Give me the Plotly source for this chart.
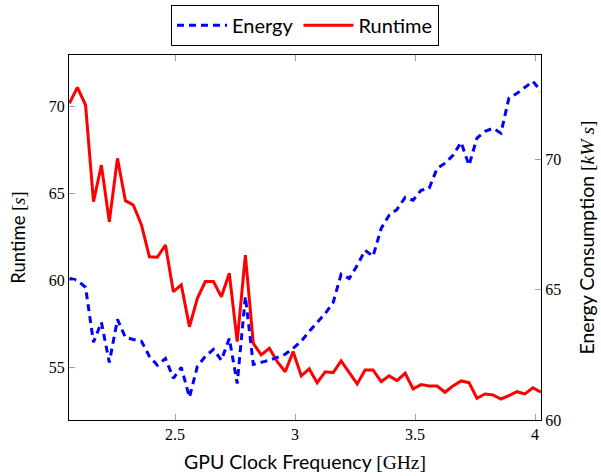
import plotly.graph_objects as go

freq_ghz = [2.060, 2.093, 2.127, 2.160, 2.193, 2.226, 2.260, 2.293, 2.326, 2.360,
            2.393, 2.426, 2.460, 2.493, 2.526, 2.560, 2.593, 2.626, 2.660, 2.693,
            2.726, 2.759, 2.793, 2.826, 2.859, 2.893, 2.926, 2.959, 2.992, 3.026,
            3.059, 3.092, 3.126, 3.159, 3.192, 3.226, 3.259, 3.292, 3.325, 3.359,
            3.392, 3.425, 3.459, 3.492, 3.525, 3.559, 3.592, 3.625, 3.658, 3.692,
            3.725, 3.758, 3.792, 3.825, 3.858, 3.891, 3.925, 3.958, 3.991, 4.025]

runtime_s = [70.20, 71.12, 70.10, 64.53, 66.64, 63.38, 67.03, 64.59, 64.34, 63.19,
             61.36, 61.33, 62.04, 59.35, 59.74, 57.33, 58.97, 59.93, 59.93, 59.06,
             60.41, 56.47, 61.46, 56.38, 55.71, 56.09, 55.32, 54.74, 55.90, 54.50,
             54.90, 54.11, 54.74, 54.69, 55.36, 54.69, 54.04, 54.84, 54.84, 54.17,
             54.50, 54.23, 54.65, 53.75, 54.00, 53.92, 53.92, 53.56, 53.92, 54.21,
             54.11, 53.21, 53.46, 53.40, 53.17, 53.36, 53.59, 53.46, 53.82, 53.56]

energy_kws = [65.43, 65.36, 65.09, 62.98, 63.75, 62.21, 63.86, 63.17, 63.09, 63.02,
              62.44, 62.10, 62.36, 61.60, 62.02, 60.87, 62.06, 62.44, 62.71, 62.29,
              63.13, 61.40, 64.74, 62.13, 62.21, 62.29, 62.40, 62.52, 62.75, 63.02,
              63.40, 63.75, 64.09, 64.51, 65.59, 65.43, 65.93, 66.51, 66.28, 67.35,
              67.85, 68.08, 68.54, 68.43, 68.81, 68.89, 69.65, 69.85, 70.15, 70.65,
              69.77, 70.81, 71.07, 71.19, 71.00, 72.34, 72.53, 72.76, 72.99, 72.61]

x_ticks = [2.5, 3, 3.5, 4]
x_tick_labels = ["2.5", "3", "3.5", "4"]
runtime_ticks = [55, 60, 65, 70]
energy_ticks = [60, 65, 70]

SANS = "Lato"
SERIF = "Liberation Serif"

fig = go.Figure()
fig.add_trace(go.Scatter(
    x=freq_ghz, y=energy_kws, name="Energy", yaxis="y2", mode="lines",
    line=dict(color="#0000ff", width=3, dash="7px,5px"),
))
fig.add_trace(go.Scatter(
    x=freq_ghz, y=runtime_s, name="Runtime", yaxis="y", mode="lines",
    line=dict(color="#ff0000", width=3),
))

tick_font = dict(family=SERIF, size=16, color="black")
fig.update_layout(
    width=601, height=476,
    margin=dict(l=69, r=60, t=55, b=56, autoexpand=False),
    paper_bgcolor="white", plot_bgcolor="white",
    showlegend=True,
    legend=dict(
        orientation="h", x=0.5, xanchor="center", y=0.99, yanchor="top",
        yref="container",
        bordercolor="black", borderwidth=1, bgcolor="white",
        font=dict(family=SANS, size=20, color="black"),
        itemwidth=50, tracegroupgap=0,
    ),
    xaxis=dict(
        range=[2.058, 4.025], tickvals=x_ticks, ticktext=x_tick_labels,
        ticks="inside", ticklen=6, tickcolor="#a0a0a0", tickwidth=1,
        showline=True, linecolor="black", linewidth=1, mirror="ticks",
        showgrid=False, zeroline=False, tickfont=tick_font, automargin=False,
        title=dict(text="GPU Clock Frequency <span style=\"font-family:Liberation Serif\">[GHz]</span>",
                   font=dict(family=SANS, size=19.5, color="black"), standoff=13),
    ),
    yaxis=dict(
        range=[51.96, 72.98], tickvals=runtime_ticks,
        ticks="inside", ticklen=6, tickcolor="#a0a0a0", tickwidth=1,
        showline=True, linecolor="black", linewidth=1,
        showgrid=False, zeroline=False, tickfont=tick_font, automargin=False,
        title=dict(text="Runtime <span style=\"font-family:Liberation Serif\">[<i>s</i>]</span>",
                   font=dict(family=SANS, size=18.5, color="black"), standoff=18),
    ),
    yaxis2=dict(
        range=[60, 74], tickvals=energy_ticks, overlaying="y", side="right",
        ticks="inside", ticklen=6, tickcolor="#a0a0a0", tickwidth=1,
        showline=True, linecolor="black", linewidth=1,
        showgrid=False, zeroline=False, tickfont=tick_font, automargin=False,
        title=dict(text="Energy Consumption <span style=\"font-family:Liberation Serif\">[<i>kW s</i>]</span>",
                   font=dict(family=SANS, size=19.5, color="black"), standoff=20),
    ),
)

fig.write_html("out.html")
